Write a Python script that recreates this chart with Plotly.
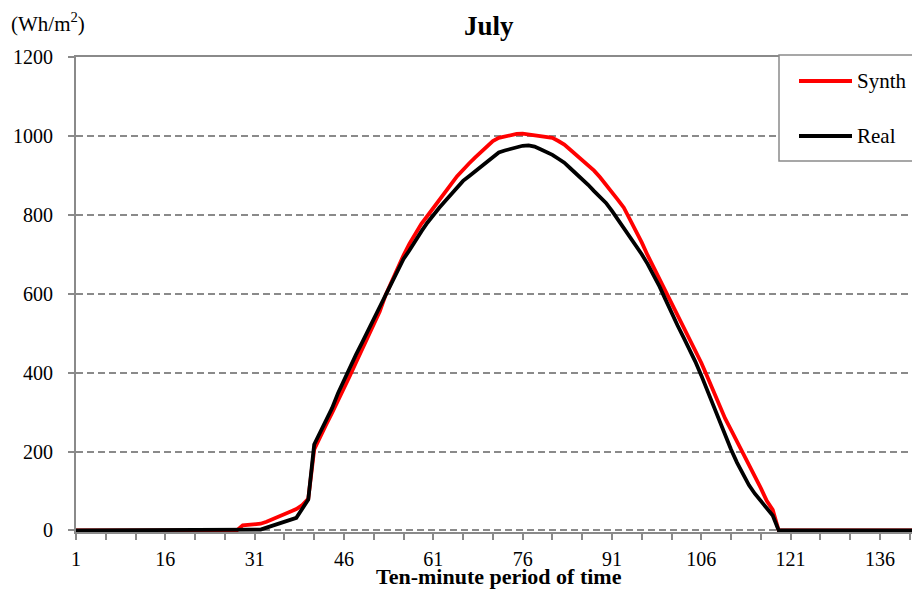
import plotly.graph_objects as go

# ---------------- data ----------------
periods = list(range(1, 145))

synth = ([0] * 28 +
         [13, 15, 16, 17, 22, 28, 34, 41, 47, 54, 64, 80,
          205, 238, 268, 298, 328, 358, 392, 425, 458, 490,
          522, 555, 597, 632, 665, 697, 727, 752, 777, 797,
          818, 840, 860, 878, 898, 915, 930, 945, 958, 972,
          987, 995, 999, 1002, 1005, 1006, 1004, 1002, 1000, 998,
          995, 987, 978, 965, 952, 940, 926, 912, 895, 877,
          858, 838, 818, 790, 762, 730, 697, 667, 637, 607,
          576, 546, 515, 485, 455, 425, 390, 353, 316, 284,
          255, 226, 196, 166, 136, 107, 75, 52] +
         [0] * 26)

real = ([0] * 31 +
        [2, 7, 12, 18, 23, 28, 32, 55, 78,
         218, 248, 278, 310, 348, 382, 414, 445, 475, 505,
         535, 565, 595, 628, 658, 688, 710, 735, 758, 780,
         800, 818, 835, 852, 870, 886, 898, 910, 922, 935,
         947, 958, 963, 967, 972, 975, 976, 973, 966, 960,
         952, 942, 932, 918, 905, 890, 876, 860, 845, 830,
         810, 788, 768, 745, 722, 700, 675, 648, 618, 585,
         550, 520, 490, 460, 428, 393, 355, 315, 278, 240,
         205, 172, 142, 115, 93, 74, 55, 38] +
        [0] * 26)

x_label_vals = [1, 16, 31, 46, 61, 76, 91, 106, 121, 136]
x_label_text = [str(v) for v in x_label_vals]
y_tick_vals = [0, 200, 400, 600, 800, 1000, 1200]

series_names = ["Synth", "Real"]
series_colors = ["#ff0000", "#000000"]

# ---------------- layout geometry ----------------
OFF = 8                     # page body margin
W, H = 920 - OFF, 589 - OFF
L, T = 76 - OFF, 57 - OFF
R = 0
B = H - (532 - OFF)
PW, PH = W - L - R, H - T - B
FONT = "Liberation Serif"
GREY = "#8a8a8a"


def px(xp):                 # window pixel -> paper x
    return (xp - OFF - L) / PW


def py(yp):                 # window pixel -> paper y
    return (H - B - (yp - OFF)) / PH


fig = go.Figure()
for name, vals, col in zip(series_names, [synth, real], series_colors):
    fig.add_trace(go.Scatter(x=periods, y=vals, mode="lines", name=name,
                             line=dict(color=col, width=3.8),
                             showlegend=False, hoverinfo="skip"))

fig.update_layout(
    width=W, height=H,
    margin=dict(l=L, r=R, t=T, b=B, autoexpand=False),
    paper_bgcolor="white", plot_bgcolor="white",
    font=dict(family=FONT, size=20, color="black"),
    showlegend=False,
)

fig.update_xaxes(
    range=[1, 1 + PW / 5.955],
    tickmode="array", tickvals=x_label_vals, ticktext=x_label_text,
    ticks="outside", ticklen=6, tickwidth=1.5, tickcolor=GREY,
    minor=dict(tickmode="linear", tick0=1, dtick=5, ticks="outside",
               ticklen=6, tickwidth=1.5, tickcolor=GREY, showgrid=False),
    showline=True, linecolor=GREY, linewidth=2, mirror=True,
    showgrid=False, zeroline=False, layer="below traces",
    tickfont=dict(family=FONT, size=20, color="black"),
    ticklabelstandoff=2,
)
fig.update_yaxes(
    range=[-4, 1200],
    tickmode="array", tickvals=y_tick_vals,
    ticks="outside", ticklen=6, tickwidth=1.5, tickcolor=GREY,
    showline=True, linecolor=GREY, linewidth=2,
    showgrid=True, gridcolor=GREY, gridwidth=1.5, griddash="7px,4px",
    zeroline=False, layer="below traces",
    tickfont=dict(family=FONT, size=20, color="black"),
    ticklabelstandoff=11,
)

# titles
fig.add_annotation(text="<b>July</b>", xref="paper", yref="paper",
                   x=px(489), y=py(26), xanchor="center", yanchor="middle",
                   showarrow=False, font=dict(family=FONT, size=27, color="black"))
fig.add_annotation(text="(Wh/m<sup>2</sup>)", xref="paper", yref="paper",
                   x=px(9), y=py(22), xanchor="left", yanchor="middle",
                   showarrow=False, font=dict(family=FONT, size=21, color="black"))
fig.add_annotation(text="<b>Ten-minute period of time</b>", xref="paper", yref="paper",
                   x=px(499), y=py(576), xanchor="center", yanchor="middle",
                   showarrow=False, font=dict(family=FONT, size=22, color="black"))

# legend (manual box, clipped by the page edge like the reference)
fig.add_shape(type="rect", xref="paper", yref="paper",
              x0=px(779), x1=px(960), y0=py(161), y1=py(55),
              line=dict(color=GREY, width=1.5), fillcolor="white", layer="above")
for i, (name, col) in enumerate(zip(series_names, series_colors)):
    yy = 81 + i * 55
    fig.add_shape(type="line", xref="paper", yref="paper",
                  x0=px(799), x1=px(852), y0=py(yy), y1=py(yy),
                  line=dict(color=col, width=3.8), layer="above")
    fig.add_annotation(text=name, xref="paper", yref="paper",
                       x=px(855), y=py(yy), xanchor="left", yanchor="middle",
                       showarrow=False, font=dict(family=FONT, size=21, color="black"))

fig.write_html("out.html")
